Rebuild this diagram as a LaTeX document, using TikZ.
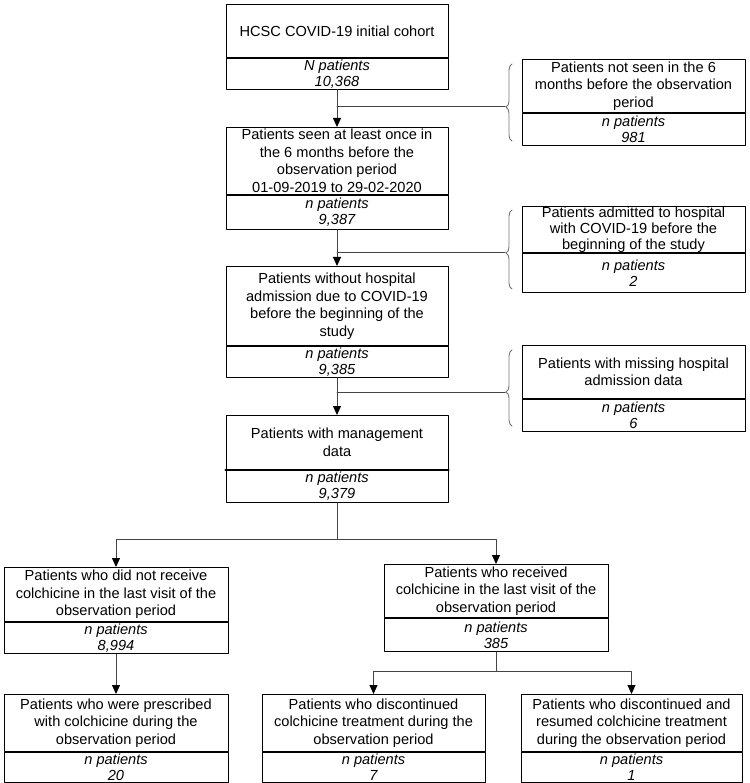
\documentclass[tikz,border=0pt]{standalone}
\usepackage{fontspec}
\setmainfont{Liberation Sans}
\usetikzlibrary{arrows.meta}
\usetikzlibrary{decorations.pathreplacing}

\tikzset{
  part/.style={draw=black,line width=1pt,inner xsep=2pt,inner ysep=0pt,align=center,anchor=north,
    font=\fontsize{14.6}{17.5}\selectfont},
  npart/.style={part,font=\fontsize{14.6}{16}\selectfont\itshape},
  flow/.style={draw=flowgray,line width=1pt},
  arr/.style={flow,-{Triangle[width=8pt,length=9pt,black]}},
  brc/.style={draw=bracegray,line width=0.9pt,decorate}
}

\begin{document}
\begin{tikzpicture}[x=1pt,y=-1pt,line cap=round,line join=round]
\definecolor{flowgray}{rgb}{0.27,0.27,0.27}
\definecolor{bracegray}{rgb}{0.45,0.45,0.45}
\useasboundingbox (0,0) rectangle (749,783);
% main column
\node[part,minimum width=222pt,minimum height=53pt] (coh) at (337,4) {HCSC COVID-19 initial cohort};
\node[npart,minimum width=222pt,minimum height=31pt] (cohN) at (coh.south) {N patients\\10,368};
\node[part,minimum width=222pt,minimum height=67pt,font=\fontsize{14.6}{17.5}\selectfont] (seen) at (337,127) {Patients seen at least once in\\the 6 months before the\\observation period\\01-09-2019 to 29-02-2020};
\node[npart,minimum width=222pt,minimum height=34pt] (seenN) at (seen.south) {n patients\\9,387};
\node[part,minimum width=222pt,minimum height=79pt] (noadm) at (337,266) {Patients without hospital\\admission due to COVID-19\\before the beginning of the\\study};
\node[npart,minimum width=222pt,minimum height=31pt] (noadmN) at (noadm.south) {n patients\\9,385};
\node[part,minimum width=222pt,minimum height=54pt] (mgmt) at (337,415) {Patients with management\\data};
\node[npart,minimum width=222pt,minimum height=32pt] (mgmtN) at (mgmt.south) {n patients\\9,379};
\draw[line width=2.4pt] (mgmt.south west) -- (mgmt.south east);
% excluded
\node[part,minimum width=223pt,minimum height=53pt] (notseen) at (633.5,59) {Patients not seen in the 6\\months before the observation\\period};
\node[npart,minimum width=223pt,minimum height=32pt] (notseenN) at (notseen.south) {n patients\\981};
\node[part,minimum width=223pt,minimum height=46pt,font=\fontsize{14.6}{16}\selectfont] (admit) at (633.5,206) {Patients admitted to hospital\\with COVID-19 before the\\beginning of the study};
\node[npart,minimum width=223pt,minimum height=39pt] (admitN) at (admit.south) {n patients\\2};
\node[part,minimum width=223pt,minimum height=53pt] (miss) at (633.5,345) {Patients with missing hospital\\admission data};
\node[npart,minimum width=223pt,minimum height=32pt] (missN) at (miss.south) {n patients\\6};
% groups
\node[part,minimum width=224pt,minimum height=54pt] (nocol) at (116,567) {Patients who did not receive\\colchicine in the last visit of the\\observation period};
\node[npart,minimum width=224pt,minimum height=31pt] (nocolN) at (nocol.south) {n patients\\8,994};
\node[part,minimum width=224pt,minimum height=57pt] (prescr) at (116,694) {Patients who were prescribed\\with colchicine during the\\observation period};
\node[npart,minimum width=224pt,minimum height=30pt] (prescrN) at (prescr.south) {n patients\\20};
\node[part,minimum width=224pt,minimum height=53pt] (col) at (496,564) {Patients who received\\colchicine in the last visit of the\\observation period};
\node[npart,minimum width=224pt,minimum height=33pt] (colN) at (col.south) {n patients\\385};
\node[part,minimum width=223pt,minimum height=57pt] (disc) at (373.5,694) {Patients who discontinued\\colchicine treatment during the\\observation period};
\node[npart,minimum width=223pt,minimum height=30pt] (discN) at (disc.south) {n patients\\7};
\node[part,minimum width=221pt,minimum height=57pt] (resum) at (631.5,694) {Patients who discontinued and\\resumed colchicine treatment\\during the observation period};
\node[npart,minimum width=221pt,minimum height=30pt] (resumN) at (resum.south) {n patients\\1};
% braces
\coordinate (t1) at (505,107);
\coordinate (t2) at (505,253);
\coordinate (t3) at (505,392);
\draw[brc,decoration={brace,amplitude=6pt,aspect=0.44}] (512,141) -- (512,64);
\draw[brc,decoration={brace,amplitude=6pt,aspect=0.456}] (512,289) -- (512,210);
\draw[brc,decoration={brace,amplitude=6pt,aspect=0.447}] (512,426) -- (512,350);
% connectors
\draw[arr] (cohN.south) -- (seen.north);
\draw[flow] (cohN.south |- t1) -- (t1);
\draw[arr] (seenN.south) -- (noadm.north);
\draw[flow] (seenN.south |- t2) -- (t2);
\draw[arr] (noadmN.south) -- (mgmt.north);
\draw[flow] (noadmN.south |- t3) -- (t3);
\coordinate (s1) at (337,539);
\draw[flow] (mgmtN.south) -- (mgmtN.south |- s1);
\draw[arr] (mgmtN.south |- s1) -| (nocol.north);
\draw[arr] (mgmtN.south |- s1) -| (col.north);
\draw[arr] (nocolN.south) -- (prescr.north);
\coordinate (s2) at (496,671);
\draw[flow] (colN.south) -- (colN.south |- s2);
\draw[arr] (colN.south |- s2) -| (disc.north);
\draw[arr] (colN.south |- s2) -| (resum.north);
\end{tikzpicture}
\end{document}
